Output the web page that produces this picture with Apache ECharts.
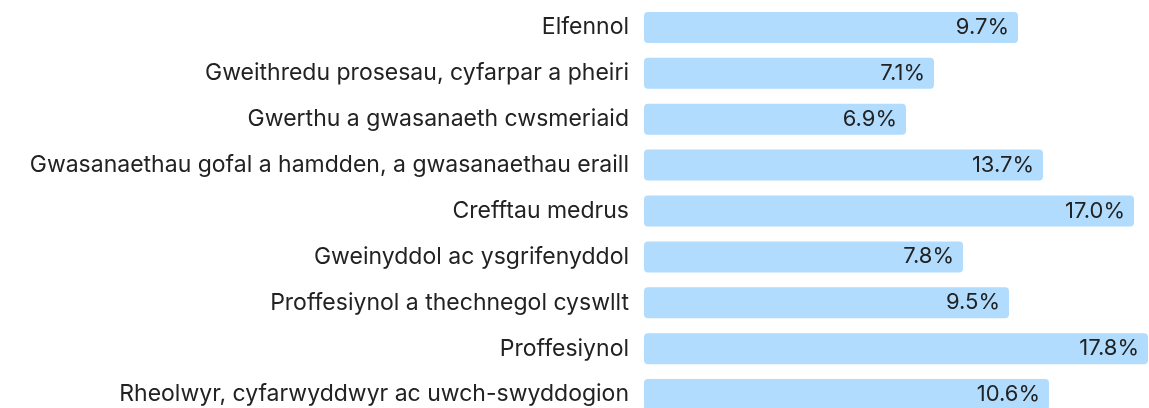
<!DOCTYPE html>
<html>
<head>
<meta charset="utf-8">
<script src="https://cdn.jsdelivr.net/npm/echarts@6/dist/echarts.min.js"></script>
<style>
  html, body { margin: 0; padding: 0; background: #fff; overflow: hidden; }
  #chart { width: 1149px; height: 420px; }
</style>
</head>
<body>
<div id="chart"></div>
<script>
// categorïau (o'r brig i'r gwaelod)
var categories = [
  "Elfennol",
  "Gweithredu prosesau, cyfarpar a pheiri",
  "Gwerthu a gwasanaeth cwsmeriaid",
  "Gwasanaethau gofal a hamdden, a gwasanaethau eraill",
  "Crefftau medrus",
  "Gweinyddol ac ysgrifenyddol",
  "Proffesiynol a thechnegol cyswllt",
  "Proffesiynol",
  "Rheolwyr, cyfarwyddwyr ac uwch-swyddogion"
];
// hyd y barrau (wedi'i ddarllen o'r llun)
var barLengths = [374, 290, 262, 399, 490, 319, 365, 504, 405];
// y labeli a ddangosir ar y barrau
var barLabels = ["9.7%", "7.1%", "6.9%", "13.7%", "17.0%", "7.8%", "9.5%", "17.8%", "10.6%"];

var myChart = echarts.init(document.getElementById('chart'));
var option = {
  animation: false,
  textStyle: { fontFamily: 'Inter' },
  // mae'r siart yn ymestyn ychydig y tu hwnt i waelod y ffenestr
  grid: {
    left: 644,
    right: 0,
    top: 4.5,
    bottom: 2.5,
    containLabel: false
  },
  xAxis: {
    type: 'value',
    min: 0,
    max: 505,
    show: false
  },
  yAxis: {
    type: 'category',
    inverse: true,
    data: categories,
    axisLine: { show: false },
    axisTick: { show: false },
    axisLabel: {
      margin: 15,
      fontSize: 23,
      color: '#222',
      fontFamily: 'Inter'
    }
  },
  series: [{
    type: 'bar',
    data: barLengths,
    barWidth: 31,
    itemStyle: {
      color: '#b1dcfd',
      borderRadius: 4
    },
    label: {
      show: true,
      position: 'insideRight',
      distance: 9,
      fontSize: 22,
      color: '#222',
      fontFamily: 'Inter',
      formatter: function (p) { return barLabels[p.dataIndex]; }
    }
  }]
};
myChart.setOption(option);
</script>
</body>
</html>
